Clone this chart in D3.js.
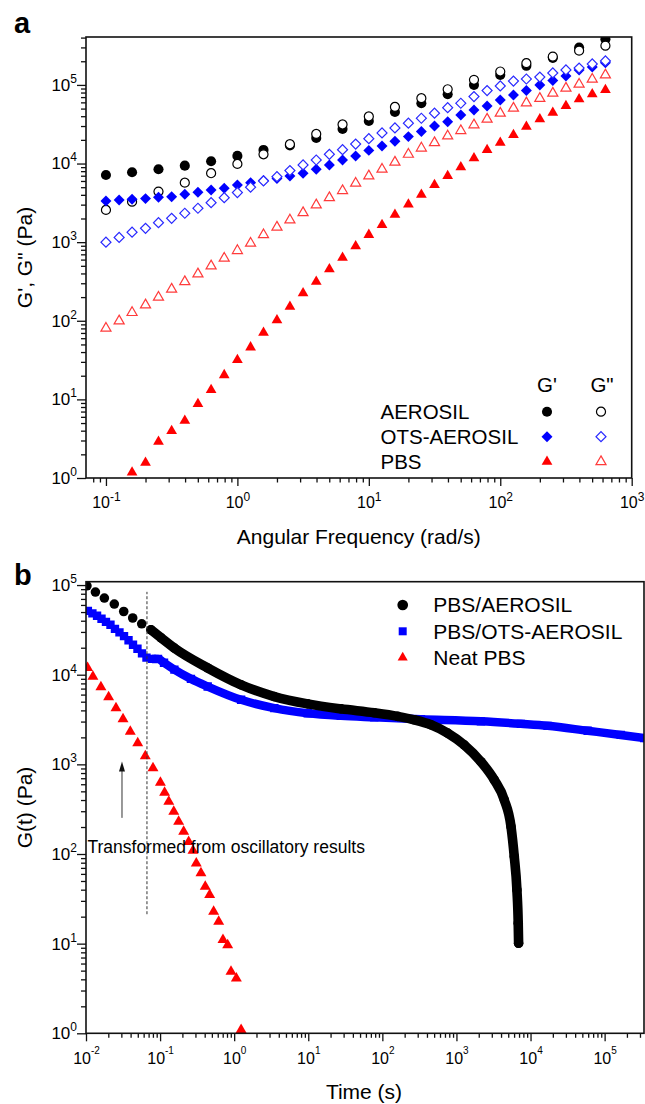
<!DOCTYPE html>
<html>
<head>
<meta charset="utf-8">
<script src="https://cdn.jsdelivr.net/npm/d3@7"></script>
<style>
  body { margin: 0; background: #fff; }
  svg text { font-family: "Liberation Sans", Arial, sans-serif; fill: #000; }
</style>
</head>
<body>
<svg id="chart" width="645" height="1104"></svg>
<script>
/* global d3:false */
'use strict';

// ---- panel a: frequency sweep ----
var freq = [0.1, 0.126, 0.158, 0.2, 0.251, 0.316, 0.398, 0.501, 0.631, 0.794, 1, 1.26, 1.58, 2, 2.51, 3.16, 3.98, 5.01, 6.31, 7.94,
  10, 12.6, 15.8, 20, 25.1, 31.6, 39.8, 50.1, 63.1, 79.4, 100, 126, 158, 200, 251, 316, 398, 501, 631];
var freqAerosil = [0.1, 0.158, 0.251, 0.398, 0.631, 1, 1.58, 2.51, 3.98, 6.31, 10, 15.8, 25.1, 39.8, 63.1, 100, 158, 251, 398, 631];
var aerosilStorage = [7160, 7740, 8450, 9400, 10700, 12500, 14900, 17000, 21200, 27500, 34800, 45300, 58500, 76200, 100000, 134000, 175000, 221000, 299000, 381000];
var aerosilLoss = [2570, 3270, 4400, 5710, 7530, 9890, 13100, 17600, 23800, 31400, 39700, 52500, 67800, 88100, 116000, 148000, 189000, 229000, 273000, 316000];
var otsStorage = [3340, 3440, 3510, 3580, 3720, 3790, 4070, 4310, 4610, 4850, 5340, 5710, 6090, 6460, 6950, 7530, 8460, 9600, 11100, 12500,
  14700, 16700, 19200, 22000, 25500, 30100, 34100, 41500, 48100, 54100, 64400, 74600, 84700, 100000, 114000, 130000, 155000, 169000, 191000];
var otsLoss = [998, 1150, 1340, 1500, 1770, 2010, 2330, 2700, 3180, 3680, 4270, 5010, 6010, 6810, 8130, 9600, 11100, 13100, 15000, 17700,
  20700, 24500, 28400, 32600, 37700, 43700, 51400, 58500, 71000, 84700, 97100, 112000, 119000, 126000, 142000, 155000, 164000, 185000, 202000];
var pbsStorage = [null, null, 1.18, 1.57, 2.90, 3.96, 5.36, 8.74, 13.2, 20.4, 31.7, 46.0, 70.6, 102, 151, 224, 314, 452, 634, 887,
  1240, 1660, 2240, 3020, 4020, 5340, 6950, 8970, 11700, 14900, 18400, 23100, 29500, 36600, 44400, 54100, 65800, 76200, 86300];
var pbsLoss = [80.3, 99.4, 127, 159, 199, 252, 314, 394, 498, 624, 780, 968, 1240, 1550, 1910, 2370, 2970, 3680, 4520, 5610,
  6950, 8460, 10400, 13100, 15700, 18400, 22400, 26200, 31000, 36600, 43700, 50600, 59000, 67300, 78400, 90800, 102000, 118000, 134000];
var legendRowsA = ['AEROSIL', 'OTS-AEROSIL', 'PBS'];

// ---- panel b: relaxation modulus ----
var timeAerosil = [0.0103, 0.0134, 0.0177, 0.0241, 0.0323, 0.0427, 0.0565, 0.0753, 0.103, 0.156, 0.439, 1.24, 3.48, 9.82, 27.6, 77.8,
  161, 269, 453, 760, 1270, 2140, 3240, 4420, 5450, 6030, 6550, 6820, 6900];
var relaxAerosil = [98200, 83600, 71600, 61400, 50700, 42900, 37000, 31700, 25800, 19800, 11900, 7710, 5710, 4730, 4160, 3760,
  3430, 3140, 2760, 2230, 1650, 1070, 671, 402, 202, 93.5, 39.7, 16.9, 10.1];
var timeOts = [0.0106, 0.0122, 0.0141, 0.0162, 0.0186, 0.0214, 0.0246, 0.0283, 0.0326, 0.0375, 0.0431, 0.0495, 0.0570, 0.0655,
  0.0778, 0.0938, 0.113, 0.156, 0.261, 0.439, 1.24, 3.48, 9.82, 27.6, 77.8, 332, 2140, 7410, 17000, 59000, 165000, 342000];
var relaxOts = [51600, 48400, 45400, 42100, 38900, 36100, 32500, 29700, 26900, 24200, 21600, 19500, 17300, 15500,
  15000, 15000, 13600, 11400, 8990, 7380, 5250, 4240, 3720, 3480, 3350, 3190, 3020, 2830, 2690, 2370, 2130, 1960];
var timeNeat = [0.0105, 0.0124, 0.0159, 0.0202, 0.0254, 0.0316, 0.0396, 0.0499, 0.0631, 0.0802, 0.101, 0.115, 0.131, 0.153, 0.178,
  0.208, 0.243, 0.278, 0.308, 0.356, 0.407, 0.467, 0.528, 0.618, 0.706, 0.817, 0.906, 1.07, 1.24];
var relaxNeat = [11900, 9550, 7280, 5620, 4240, 3190, 2320, 1730, 1240, 908, 627, 484, 385, 297, 230,
  178, 137, 109, 78.9, 61.1, 43.3, 35.0, 22.8, 17.6, 11.0, 9.66, 4.88, 4.11, 1.09];
var legendRowsB = ['PBS/AEROSIL', 'PBS/OTS-AEROSIL', 'Neat PBS'];
var denseFrom = 0.07;                 // transformed (dense) part starts here
var dashT = 0.0665, dashRange = [21.3, 84000];
var arrowT = 0.0306, arrowRange = [253, 1074];
var noteText = 'Transformed from oscillatory results', noteAt = [0.0103, 102];

var BLUE = '#0000ff', BLUE_OPEN = '#2b2bff', RED = '#ff0000', RED_OPEN = '#ff3b3b';

var svg = d3.select('#chart');

function isPow(d) {
  var l = Math.log10(d);
  return Math.abs(l - Math.round(l)) < 1e-6;
}

function supLabels(g, supSize, supDy) {
  g.selectAll('.tick text').each(function (d) {
    var t = d3.select(this).text(null);
    t.append('tspan').text('10');
    t.append('tspan').attr('font-size', supSize).attr('dy', supDy).text(Math.round(Math.log10(d)));
  });
}

function drawAxes(g, x, y, opt) {
  var xr = x.range(), yr = y.range(),
      xt = x.ticks(), yt = y.ticks();

  var bottom = g.append('g').attr('transform', 'translate(0,' + yr[0] + ')');
  bottom.append('g').call(d3.axisBottom(x).tickValues(xt.filter(function (d) { return !isPow(d); })).tickSize(4.5).tickFormat(''));
  bottom.append('g').call(d3.axisBottom(x).tickValues(xt.filter(isPow)).tickSize(8).tickPadding(opt.xPad))
    .attr('font-family', null).attr('font-size', opt.xFont)
    .call(supLabels, opt.xSup, opt.xSupDy);

  var left = g.append('g').attr('transform', 'translate(' + xr[0] + ',0)');
  left.append('g').call(d3.axisLeft(y).tickValues(yt.filter(function (d) { return !isPow(d); })).tickSize(5).tickFormat(''));
  left.append('g').call(d3.axisLeft(y).tickValues(yt.filter(isPow)).tickSize(9).tickPadding(0))
    .attr('font-family', null).attr('font-size', 17)
    .call(supLabels, 12, -8);

  g.selectAll('.domain').remove();
  g.selectAll('.tick line').attr('stroke', '#111').attr('stroke-width', 1.3);

  g.append('rect')
    .attr('x', xr[0]).attr('y', yr[1])
    .attr('width', xr[1] - xr[0]).attr('height', yr[0] - yr[1])
    .attr('fill', 'none').attr('stroke', '#111').attr('stroke-width', 1.6);
}

function addClip(id, x, y) {
  svg.append('clipPath').attr('id', id).append('rect')
    .attr('x', x.range()[0]).attr('y', y.range()[1])
    .attr('width', x.range()[1] - x.range()[0]).attr('height', y.range()[0] - y.range()[1]);
}

function symbolPath(style) {
  return d3.symbol().type(style.type).size(style.size)();
}

function drawMarkers(g, xs, ys, x, y, style) {
  var pts = xs.map(function (v, i) { return [v, ys[i]]; }).filter(function (p) { return p[1] != null; });
  g.append('g').selectAll('path').data(pts).join('path')
    .attr('transform', function (p) {
      return 'translate(' + x(p[0]) + ',' + y(p[1]) + ')' + (style.rotate ? ' rotate(45)' : '');
    })
    .attr('d', symbolPath(style))
    .attr('fill', style.fill)
    .attr('stroke', style.stroke || 'none')
    .attr('stroke-width', style.sw || 0);
}

function legendMark(g, cx, cy, style) {
  g.append('path')
    .attr('transform', 'translate(' + cx + ',' + cy + ')' + (style.rotate ? ' rotate(45)' : ''))
    .attr('d', symbolPath(style))
    .attr('fill', style.fill).attr('stroke', style.stroke || 'none').attr('stroke-width', style.sw || 0);
}

// ================= panel a =================
function drawPanelA() {
  var x = d3.scaleLog().domain([0.0705, 1000]).range([86, 631.7]),
      y = d3.scaleLog().domain([1, 4.07e5]).range([478, 37]),
      g = svg.append('g');

  var styles = {
    aerosilG1: { type: d3.symbolCircle, size: 80, fill: '#000' },
    aerosilG2: { type: d3.symbolCircle, size: 64, fill: '#fff', stroke: '#000', sw: 1.2 },
    otsG1: { type: d3.symbolSquare, size: 60, fill: BLUE, rotate: true },
    otsG2: { type: d3.symbolSquare, size: 50, fill: '#fff', stroke: BLUE_OPEN, sw: 1.2, rotate: true },
    pbsG1: { type: d3.symbolTriangle, size: 50, fill: RED },
    pbsG2: { type: d3.symbolTriangle, size: 44, fill: '#fff', stroke: RED_OPEN, sw: 1.2 }
  };

  addClip('clipA', x, y);
  var plot = g.append('g').attr('clip-path', 'url(#clipA)');
  drawMarkers(plot, freqAerosil, aerosilStorage, x, y, styles.aerosilG1);
  drawMarkers(plot, freqAerosil, aerosilLoss, x, y, styles.aerosilG2);
  drawMarkers(plot, freq, otsStorage, x, y, styles.otsG1);
  drawMarkers(plot, freq, otsLoss, x, y, styles.otsG2);
  drawMarkers(plot, freq, pbsStorage, x, y, styles.pbsG1);
  drawMarkers(plot, freq, pbsLoss, x, y, styles.pbsG2);

  drawAxes(g, x, y, { xFont: 16, xSup: 12, xSupDy: -7.5, xPad: 11 });

  // legend
  var lg = g.append('g').attr('font-size', 20.5);
  lg.append('text').attr('x', 547).attr('y', 391.5).attr('text-anchor', 'middle').text("G'");
  lg.append('text').attr('x', 602).attr('y', 391.5).attr('text-anchor', 'middle').text('G"');
  var pairs = [[styles.aerosilG1, styles.aerosilG2], [styles.otsG1, styles.otsG2], [styles.pbsG1, styles.pbsG2]];
  legendRowsA.forEach(function (name, i) {
    var cy = 411.7 + i * 25;
    lg.append('text').attr('x', 380.5).attr('y', cy + 7).text(name);
    legendMark(lg, 547, cy, pairs[i][0]);
    legendMark(lg, 601, cy, pairs[i][1]);
  });

  g.append('text').attr('x', 358.8).attr('y', 543.5).attr('text-anchor', 'middle')
    .attr('font-size', 21).text('Angular Frequency (rad/s)');
  g.append('text').attr('transform', 'translate(31.5,257.5) rotate(-90)').attr('text-anchor', 'middle')
    .attr('font-size', 21).text('G\', G" (Pa)');
  g.append('text').attr('x', 14).attr('y', 32.5).attr('font-size', 29).attr('font-weight', 'bold').text('a');
}

// ================= panel b =================
function drawPanelB() {
  var x = d3.scaleLog().domain([0.01, 3.4e5]).range([86, 644]),
      y = d3.scaleLog().domain([1, 1.09e5]).range([1033.3, 581.7]),
      g = svg.append('g');

  var styles = {
    aerosil: { type: d3.symbolCircle, size: 72, fill: '#000' },
    ots: { type: d3.symbolSquare, size: 70, fill: BLUE },
    neat: { type: d3.symbolTriangle, size: 52, fill: RED }
  };

  addClip('clipB', x, y);
  var plot = g.append('g').attr('clip-path', 'url(#clipB)');
  var line = d3.line()
    .x(function (p) { return x(p[0]); })
    .y(function (p) { return y(p[1]); })
    .curve(d3.curveMonotoneX);

  function dense(ts, gs) {
    return ts.map(function (t, i) { return [t, gs[i]]; }).filter(function (p) { return p[0] >= denseFrom; });
  }

  plot.append('path').datum(dense(timeOts, relaxOts)).attr('d', line)
    .attr('fill', 'none').attr('stroke', BLUE).attr('stroke-width', 8.5);
  drawMarkers(plot, timeOts, relaxOts, x, y, styles.ots);

  plot.append('path').datum(dense(timeAerosil, relaxAerosil)).attr('d', line)
    .attr('fill', 'none').attr('stroke', '#000').attr('stroke-width', 9.6).attr('stroke-linecap', 'round');
  drawMarkers(plot, timeAerosil, relaxAerosil, x, y, styles.aerosil);

  drawMarkers(plot, timeNeat, relaxNeat, x, y, styles.neat);

  // annotation: dashed boundary, arrow, note
  g.append('line')
    .attr('x1', x(dashT)).attr('x2', x(dashT))
    .attr('y1', y(dashRange[0])).attr('y2', y(dashRange[1]))
    .attr('stroke', '#333').attr('stroke-width', 1).attr('stroke-dasharray', '3,2');
  var ax = x(arrowT), aTop = y(arrowRange[1]);
  g.append('line').attr('x1', ax).attr('x2', ax).attr('y1', y(arrowRange[0])).attr('y2', aTop + 6)
    .attr('stroke', '#333').attr('stroke-width', 1);
  g.append('path').attr('d', 'M' + ax + ',' + aTop + 'l-3,10l6,0z').attr('fill', '#111');
  g.append('text').attr('x', x(noteAt[0]) + 0.5).attr('y', y(noteAt[1])).attr('font-size', 17.5).text(noteText);

  drawAxes(g, x, y, { xFont: 16, xSup: 10, xSupDy: -10, xPad: 11 });

  var lg = g.append('g').attr('font-size', 21);
  var ls = [
    { type: d3.symbolCircle, size: 90, fill: '#000' },
    { type: d3.symbolSquare, size: 64, fill: BLUE },
    { type: d3.symbolTriangle, size: 44, fill: RED }
  ];
  legendRowsB.forEach(function (name, i) {
    var cy = 605 + i * 26.3;
    legendMark(lg, 402.7, cy, ls[i]);
    lg.append('text').attr('x', 433.3).attr('y', cy + 7.2).text(name);
  });

  g.append('text').attr('x', 364).attr('y', 1099.3).attr('text-anchor', 'middle')
    .attr('font-size', 21).text('Time (s)');
  g.append('text').attr('transform', 'translate(31.5,807.5) rotate(-90)').attr('text-anchor', 'middle')
    .attr('font-size', 21).text('G(t) (Pa)');
  g.append('text').attr('x', 14).attr('y', 585).attr('font-size', 29).attr('font-weight', 'bold').text('b');
}

drawPanelA();
drawPanelB();
</script>
</body>
</html>
